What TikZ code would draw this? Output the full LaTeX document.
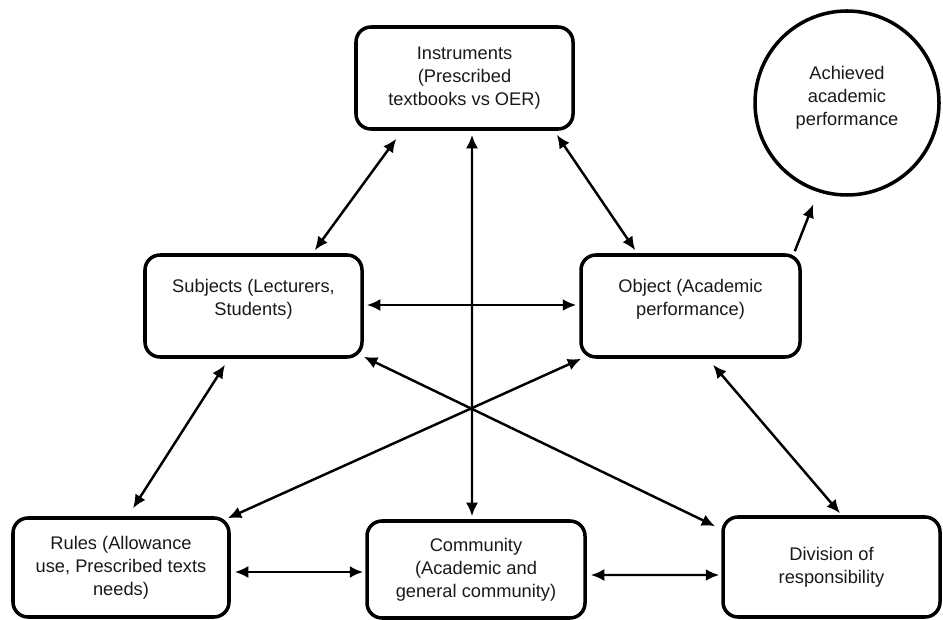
\documentclass[tikz,border=0pt]{standalone}
\usepackage{fontspec}
\setmainfont{Liberation Sans}
\usetikzlibrary{arrows.meta}

\begin{document}
\begin{tikzpicture}[
    font=\fontsize{10.4}{13.1}\selectfont,
    every node/.style={align=center, text=black!90},
    box/.style={draw, line width=2pt, rounded corners=0.3cm, minimum width=4.34cm, minimum height=2.04cm, inner sep=2pt},
    goal/.style={circle, draw, line width=2pt, minimum size=3.68cm, inner sep=0pt},
    raised/.style={text depth=0.36cm},
    link/.style={{Latex[length=2.7mm,width=2.4mm]}-{Latex[length=2.7mm,width=2.4mm]}, line width=1.4pt},
    push/.style={-{Latex[length=2.7mm,width=2.4mm]}, line width=1.4pt}
]
\useasboundingbox (0,0) rectangle (18.86,12.38);

% activity system
\node[box] (instr) at (9.29,10.82) {Instruments\\(Prescribed\\textbooks vs OER)};
\node[goal, text depth=0.3cm] (achv) at (16.94,10.32) {Achieved\\academic\\performance};
\node[box, raised] (subj) at (5.07,6.26) {Subjects (Lecturers,\\Students)};
\node[box, raised, minimum width=4.38cm] (obj) at (13.81,6.26) {Object (Academic\\performance)};
\node[box, minimum width=4.32cm, minimum height=1.98cm] (rules) at (2.42,1.03) {Rules (Allowance\\use, Prescribed texts\\needs)};
\node[box, minimum width=4.36cm, minimum height=1.94cm] (comm) at (9.52,0.99) {Community\\(Academic and\\general community)};
\node[box, minimum height=2cm] (div) at (16.63,1.04) {Division of\\responsibility};

% links
\draw[link] ([xshift=0.84cm,yshift=-0.16cm]instr.south west) -- ([xshift=-0.98cm,yshift=0.06cm]subj.north east);
\draw[link] ([xshift=-0.36cm,yshift=-0.08cm]instr.south east) -- ([xshift=1.12cm,yshift=0.06cm]obj.north west);
\draw[link] ([xshift=0.15cm,yshift=-0.08cm]instr.south) -- ([xshift=-0.08cm,yshift=0.06cm]comm.north);
\draw[link] ([xshift=0.06cm,yshift=0.02cm]subj.east) -- ([xshift=-0.06cm,yshift=0.02cm]obj.west);
\draw[link] ([xshift=-0.57cm,yshift=-0.12cm]subj.south) -- ([xshift=0.24cm,yshift=0.16cm]rules.north);
\draw[link] ([xshift=0.45cm,yshift=-0.12cm]obj.south) -- ([xshift=0.17cm,yshift=0.04cm]div.north);
\draw[link] ([yshift=0.04cm]subj.south east) -- ([xshift=-0.12cm,yshift=-0.22cm]div.north west);
\draw[link] ([xshift=0.04cm]obj.south west) -- ([xshift=-0.06cm,yshift=-0.04cm]rules.north east);
\draw[link] ([xshift=0.08cm,yshift=-0.09cm]rules.east) -- ([xshift=-0.04cm,yshift=-0.05cm]comm.west);
\draw[link] ([xshift=0.08cm,yshift=-0.11cm]comm.east) -- ([xshift=-0.04cm,yshift=-0.16cm]div.west);
\draw[push, shorten >=0.26cm] ([xshift=-0.14cm,yshift=0.04cm]obj.north east) -- (achv.252);
\end{tikzpicture}
\end{document}
